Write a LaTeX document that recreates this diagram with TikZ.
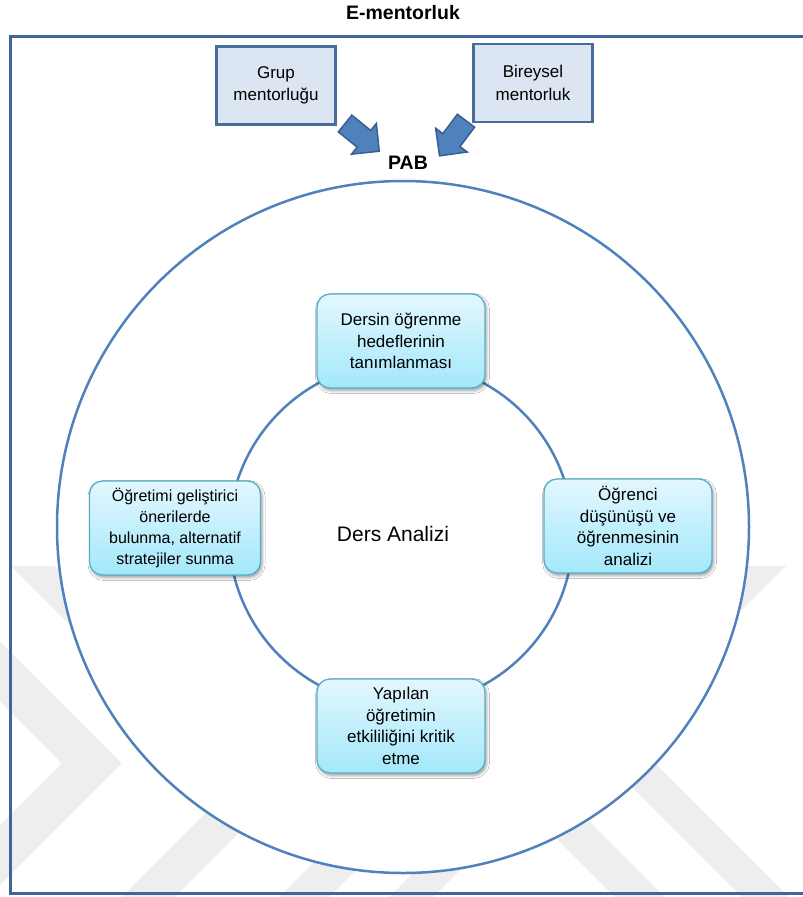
\documentclass[tikz,border=0pt]{standalone}
\usepackage{fontspec}
\setmainfont{Liberation Sans}
\usetikzlibrary{shapes.arrows,shadows.blur}
\definecolor{framec}{HTML}{41649A}
\definecolor{ringc}{HTML}{4F81BD}
\definecolor{boxfill}{HTML}{DCE6F2}
\definecolor{boxline}{HTML}{4A6C9A}
\definecolor{arrowfill}{HTML}{4F81BD}
\definecolor{arrowline}{HTML}{3A5F8E}
\definecolor{steptop}{HTML}{E3F7FE}
\definecolor{stepbot}{HTML}{A3E8FB}
\definecolor{stepline}{HTML}{5AAFC8}
\definecolor{wm}{HTML}{EEEEEE}

\begin{document}
\begin{tikzpicture}[x=1pt,y=-1pt,
  every node/.style={font=\fontsize{17}{21.5}\selectfont, align=center, inner sep=0pt},
  mentorbox/.style={draw=boxline, line width=2.5pt, fill=boxfill,
    minimum width=119pt, minimum height=78pt, font=\fontsize{17}{22.5}\selectfont},
  stepbox/.style={draw=stepline, line width=1.3pt, rounded corners=13pt,
    top color=steptop, bottom color=stepbot, minimum width=168pt, minimum height=94pt,
    blur shadow={shadow xshift=1.5pt, shadow yshift=-2.5pt, shadow blur radius=3pt, shadow opacity=40}},
  blockarrow/.style={single arrow, draw=arrowline, line width=1.5pt, fill=arrowfill,
    inner xsep=0pt, inner ysep=10pt, minimum height=44pt,
    single arrow head extend=9pt, single arrow head indent=0pt},
  ring/.style={circle, draw=ringc, line width=2.5pt},
  heading/.style={font=\fontsize{19.5}{22}\selectfont\bfseries}
]
\useasboundingbox (0,0) rectangle (803,897);

% light chevron watermark in the lower part of the page
\begin{scope}
  \clip (0,566) rectangle (803,897);
  \fill[wm] (121.7,763.3) -- (-100,541.7) -- (-100,601.7) -- (61.7,763.3)
            -- (-100,925) -- (-100,985) -- cycle;
  \fill[wm] (280,791.7) -- (-100,411.7) -- (-100,455) -- (231.7,786.7)
            -- (-100,1118.3) -- (-100,1171.7) -- cycle;
  \fill[wm] (226,950) -- (276,950) -- (526,700) -- (476,700) -- cycle;
  \fill[wm] (336,950) -- (380,950) -- (630,700) -- (586,700) -- cycle;
  \fill[wm] (575,730) -- (805,500) -- (852,500) -- (622,730)
            -- (900,1008) -- (900,1055) -- cycle;
  \fill[wm] (443,725) -- (668,500) -- (715,500) -- (491.5,723.5)
            -- (900,1132) -- (900,1182) -- cycle;
\end{scope}

% outer frame, open on the right
\draw[framec, line width=3pt] (808,36) -- (10,36) -- (10,893) -- (808,893);

% title
\node[heading] (title) at (403,13) {E-mentorluk};

% mentoring types
\node[mentorbox] (grup) at (276,85.5) {Grup\\mentorluğu};
\node[mentorbox] (bireysel) at (533,83) {Bireysel\\mentorluk};

% block arrows towards PAB
\node[blockarrow, rotate=-39] (arrowgrup) at (358,134) {};
\node[blockarrow, rotate=-127] (arrowbireysel) at (456,134) {};

\node[heading] (pablabel) at (408,163) {PAB};

% rings
\node[ring, fill=white, minimum size=692pt] (pab) at (403,527) {};
\node[ring, minimum size=344pt] (cycle) at (401,534) {};

\node[font=\fontsize{21}{24}\selectfont] (ders) at (393,534) {Ders Analizi};

% lesson analysis steps
\node[stepbox] (hedef) at (401,341) {Dersin öğrenme\\hedeflerinin\\tanımlanması};
\node[stepbox] (analiz) at (628,526) {Öğrenci\\düşünüşü ve\\öğrenmesinin\\analizi};
\node[stepbox] (kritik) at (401,726) {Yapılan\\öğretimin\\etkililiğini kritik\\etme};
\node[stepbox, minimum width=171pt, font=\fontsize{16}{21}\selectfont] (oneri) at (175,528)
  {Öğretimi geliştirici\\önerilerde\\bulunma, alternatif\\stratejiler sunma};
\end{tikzpicture}
\end{document}
